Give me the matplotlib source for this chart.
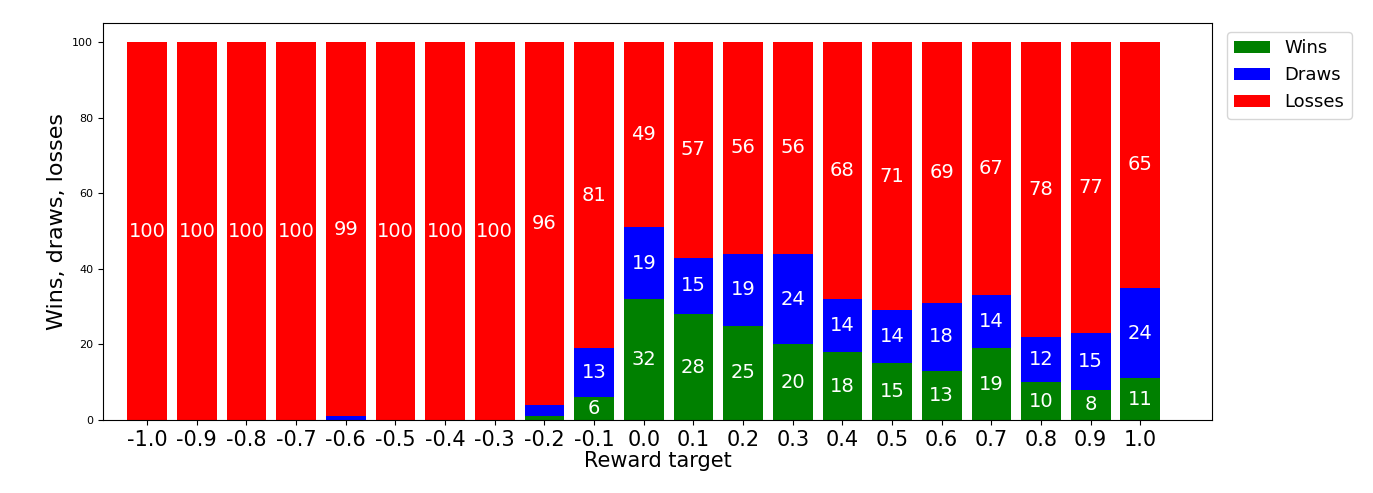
import matplotlib
matplotlib.use("Agg")
import matplotlib.pyplot as plt
import numpy as np

targets = ["-1.0","-0.9","-0.8","-0.7","-0.6","-0.5","-0.4","-0.3","-0.2","-0.1",
           "0.0","0.1","0.2","0.3","0.4","0.5","0.6","0.7","0.8","0.9","1.0"]
wins   = [0,0,0,0,0,0,0,0,1,6,32,28,25,20,18,15,13,19,10,8,11]
draws  = [0,0,0,0,1,0,0,0,3,13,19,15,19,24,14,14,18,14,12,15,24]
losses = [100,100,100,100,99,100,100,100,96,81,49,57,56,56,68,71,69,67,78,77,65]

fig = plt.figure(figsize=(13.73, 4.93), dpi=100)
ax = fig.add_axes([0.075, 0.148, 0.808, 0.805])
x = np.arange(len(targets))
w = np.array(wins); d = np.array(draws); l = np.array(losses)
bw = ax.bar(x, w, 0.8, color="green", label="Wins")
bd = ax.bar(x, d, 0.8, bottom=w, color="blue", label="Draws")
bl = ax.bar(x, l, 0.8, bottom=w + d, color="red", label="Losses")
for vals, bottoms in ((w, np.zeros_like(w)), (d, w), (l, w + d)):
    for xi, v, b in zip(x, vals, bottoms):
        if v >= 5:
            ax.text(xi, b + v / 2, str(v), ha="center", va="center", color="white", fontsize=14)
ax.set_xticks(x)
ax.set_xticklabels(targets, fontsize=15)
ax.tick_params(axis="y", labelsize=8)
ax.set_xlim(-0.89, 21.45)
ax.set_ylim(0, 105)
ax.set_xlabel("Reward target", fontsize=15, labelpad=1)
ax.set_ylabel("Wins, draws, losses", fontsize=16)
ax.legend(loc="upper left", bbox_to_anchor=(1.005, 1.0), fontsize=13)
fig.savefig("out.png", dpi=100)
